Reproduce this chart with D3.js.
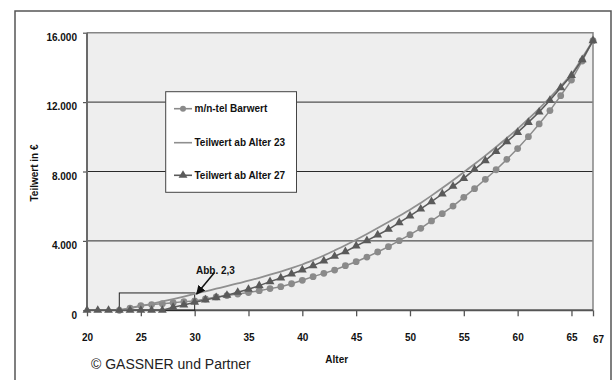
<!DOCTYPE html>
<html>
<head>
<meta charset="utf-8">
<script src="https://cdn.jsdelivr.net/npm/d3@7/dist/d3.min.js"></script>
<style>
  html, body { margin: 0; padding: 0; background: #fff; }
  svg { display: block; font-family: Arial, "Liberation Sans", Helvetica, sans-serif; }
</style>
</head>
<body>
<svg id="chart" width="614" height="380"></svg>
<script>
// Ages on the x axis
const ages = d3.range(20, 68);

// m/n-tel Barwert (ages 23..67)
const barwertAges = d3.range(23, 68);
const barwert = [
  0, 130, 270, 330, 380, 440, 500, 540, 650, 770,
  850, 940, 1020, 1130, 1250, 1360, 1530, 1730, 1940, 2130,
  2320, 2570, 2800, 3070, 3360, 3670, 4015, 4360, 4725, 5150,
  5570, 6010, 6510, 7010, 7550, 8100, 8700, 9320, 10010, 10740,
  11510, 12370, 13270, 14370, 15540
];

// Teilwert ab Alter 23 (ages 23..67)
const tw23Ages = d3.range(23, 68);
const teilwert23 = [
  0, 120, 245, 375, 510, 650, 795, 945, 1095, 1245,
  1395, 1550, 1705, 1875, 2050, 2235, 2430, 2640, 2890, 3160,
  3450, 3750, 4070, 4400, 4740, 5085, 5435, 5790, 6190, 6610,
  7045, 7495, 7960, 8430, 8915, 9415, 9930, 10460, 11030, 11630,
  12260, 12920, 13610, 14550, 15540
];

// Teilwert ab Alter 27 (ages 20..67)
const teilwert27 = [
  0, 0, 0, 0, 0, 0, 0, 0, 173, 307,
  461, 595, 730, 865, 1037, 1210, 1421, 1652, 1863, 2094,
  2324, 2574, 2843, 3112, 3381, 3707, 4015, 4341, 4668, 5052,
  5436, 5839, 6262, 6704, 7146, 7607, 8125, 8625, 9163, 9720,
  10257, 10834, 11429, 12101, 12831, 13542, 14445, 15540
];

const seriesNames = ["m/n-tel Barwert", "Teilwert ab Alter 23", "Teilwert ab Alter 27"];
const xTicks = [20, 25, 30, 35, 40, 45, 50, 55, 60, 65, 67];
const yTicks = [0, 4000, 8000, 12000, 16000];
const yGrid = [4000, 8000, 12000];

// Highlighted detail (see Abb. 2,3)
const detailAges = [23, 30];
const detailValues = [0, 1000];
const detailLabel = "Abb. 2,3";

const deLocale = d3.formatLocale({ decimal: ",", thousands: ".", grouping: [3], currency: ["", " €"] });
const fmt = deLocale.format(",.0f");

const svg = d3.select("#chart");

const colBarwert = "#8a8a8a";
const colTw23 = "#8f8f8f";
const colTw27 = "#5a5a5a";

// outer frame
svg.append("rect")
  .attr("x", 15).attr("y", 11).attr("width", 596).attr("height", 380)
  .attr("fill", "#fff").attr("stroke", "#555").attr("stroke-width", 1.5);

const x = d3.scaleLinear().domain([20, 67]).range([87, 593]);
const y = d3.scaleLinear().domain([0, 16000]).range([310.3, 32.7]);

// plot background
svg.append("rect")
  .attr("x", x(20)).attr("y", y(16000))
  .attr("width", x(67) - x(20)).attr("height", y(0) - y(16000))
  .attr("fill", "#eeeeee");

// gridlines
svg.append("g").selectAll("line").data(yGrid).join("line")
  .attr("x1", x(20)).attr("x2", x(67))
  .attr("y1", d => y(d)).attr("y2", d => y(d))
  .attr("stroke", "#2a2a2a").attr("stroke-width", 1);

// top and right plot border
svg.append("path")
  .attr("d", `M${x(20)},${y(16000)}H${x(67)}V${y(0)}`)
  .attr("fill", "none").attr("stroke", "#858585").attr("stroke-width", 1.5);

// axes
const xAxis = svg.append("g")
  .attr("transform", `translate(0,${y(0)})`)
  .call(d3.axisBottom(x).tickValues(xTicks).tickSize(6).tickPadding(18).tickFormat(d3.format("d")));
xAxis.select(".domain").remove();
xAxis.selectAll(".tick line").attr("stroke", "#555").attr("stroke-width", 1.3);
xAxis.selectAll(".tick text")
  .attr("font-size", 10).attr("font-weight", "bold").attr("fill", "#111")
  .attr("font-family", "Arial, 'Liberation Sans', sans-serif")
  .filter(d => d === 67).attr("dx", 5).attr("dy", "0.86em");

const yAxis = svg.append("g")
  .attr("transform", `translate(${x(20)},0)`)
  .call(d3.axisLeft(y).tickValues(yTicks).tickSize(4).tickPadding(6).tickFormat(fmt));
yAxis.select(".domain").remove();
yAxis.selectAll(".tick line").attr("stroke", "#555").attr("stroke-width", 1.2);
yAxis.selectAll(".tick text")
  .attr("font-size", 10).attr("font-weight", "bold").attr("fill", "#111")
  .attr("font-family", "Arial, 'Liberation Sans', sans-serif")
  .attr("dy", "0.78em");

// axis lines
svg.append("line")
  .attr("x1", x(20)).attr("x2", x(20)).attr("y1", y(16000)).attr("y2", y(0))
  .attr("stroke", "#6a6a6a").attr("stroke-width", 2);
svg.append("line")
  .attr("x1", x(20)).attr("x2", x(67)).attr("y1", y(0)).attr("y2", y(0))
  .attr("stroke", "#555").attr("stroke-width", 2);

// axis titles
svg.append("text")
  .attr("x", x(43.2)).attr("y", 363)
  .attr("text-anchor", "middle").attr("font-size", 10).attr("font-weight", "bold")
  .attr("fill", "#111").text("Alter");
svg.append("text")
  .attr("transform", "translate(38,173) rotate(-90)")
  .attr("text-anchor", "middle").attr("font-size", 10).attr("font-weight", "bold")
  .attr("fill", "#111").text("Teilwert in €");

// detail box
svg.append("rect")
  .attr("x", x(detailAges[0])).attr("y", y(detailValues[1]))
  .attr("width", x(detailAges[1]) - x(detailAges[0]))
  .attr("height", y(detailValues[0]) - y(detailValues[1]))
  .attr("fill", "none").attr("stroke", "#222").attr("stroke-width", 1);

const line = d3.line().x(d => x(d[0])).y(d => y(d[1]));
const smooth = d3.line().x(d => x(d[0])).y(d => y(d[1])).curve(d3.curveMonotoneX);

const bwData = barwertAges.map((a, i) => [a, barwert[i]]);
const t23Data = tw23Ages.map((a, i) => [a, teilwert23[i]]);
const t27Data = ages.map((a, i) => [a, teilwert27[i]]);

// m/n-tel Barwert
svg.append("path").datum(bwData).attr("d", line)
  .attr("fill", "none").attr("stroke", colBarwert).attr("stroke-width", 1.5);
svg.append("g").selectAll("circle").data(bwData).join("circle")
  .attr("cx", d => x(d[0])).attr("cy", d => y(d[1])).attr("r", 3.4)
  .attr("fill", colBarwert);

// Teilwert ab Alter 23
svg.append("path").datum(t23Data).attr("d", smooth)
  .attr("fill", "none").attr("stroke", colTw23).attr("stroke-width", 1.8);

// Teilwert ab Alter 27
const tri = d3.symbol().type(d3.symbolTriangle).size(34);
svg.append("path").datum(t27Data).attr("d", line)
  .attr("fill", "none").attr("stroke", colTw27).attr("stroke-width", 1.5);
svg.append("g").selectAll("path").data(t27Data).join("path")
  .attr("transform", d => `translate(${x(d[0])},${y(d[1])})`)
  .attr("d", tri).attr("fill", colTw27);

// annotation arrow
const defs = svg.append("defs");
defs.append("marker")
  .attr("id", "arrowhead").attr("viewBox", "0 0 10 10")
  .attr("refX", 9).attr("refY", 5).attr("markerWidth", 6).attr("markerHeight", 6)
  .attr("orient", "auto")
  .append("path").attr("d", "M0,0L10,5L0,10z").attr("fill", "#111");
svg.append("line")
  .attr("x1", 214.5).attr("y1", 272.5)
  .attr("x2", x(detailAges[1]) + 2).attr("y2", y(detailValues[1]) + 1)
  .attr("stroke", "#111").attr("stroke-width", 1.5)
  .attr("marker-end", "url(#arrowhead)");
svg.append("text")
  .attr("x", 196).attr("y", 274)
  .attr("font-size", 10).attr("font-weight", "bold").attr("fill", "#111")
  .text(detailLabel);

// legend
const lg = svg.append("g");
lg.append("rect")
  .attr("x", 165.7).attr("y", 91.7).attr("width", 130.8).attr("height", 100.6)
  .attr("fill", "#fff").attr("stroke", "#444").attr("stroke-width", 1);
const legendY = [108.7, 142.7, 175.3];
const legendCols = [colBarwert, colTw23, colTw27];
seriesNames.forEach((name, i) => {
  const g = lg.append("g").attr("transform", `translate(0,${legendY[i]})`);
  g.append("line").attr("x1", 174).attr("x2", 192).attr("y1", 0).attr("y2", 0)
    .attr("stroke", legendCols[i]).attr("stroke-width", 1.6);
  if (i === 0) g.append("circle").attr("cx", 183).attr("cy", 0).attr("r", 3).attr("fill", colBarwert);
  if (i === 2) g.append("path").attr("transform", "translate(183,0)").attr("d", tri).attr("fill", colTw27);
  g.append("text").attr("x", 194.5).attr("y", 3.6)
    .attr("font-size", 10).attr("font-weight", "bold").attr("fill", "#111").text(name);
});

// copyright line
svg.append("text")
  .attr("x", 91).attr("y", 369)
  .attr("font-size", 14).attr("fill", "#222")
  .text("© GASSNER und Partner");
</script>
</body>
</html>
